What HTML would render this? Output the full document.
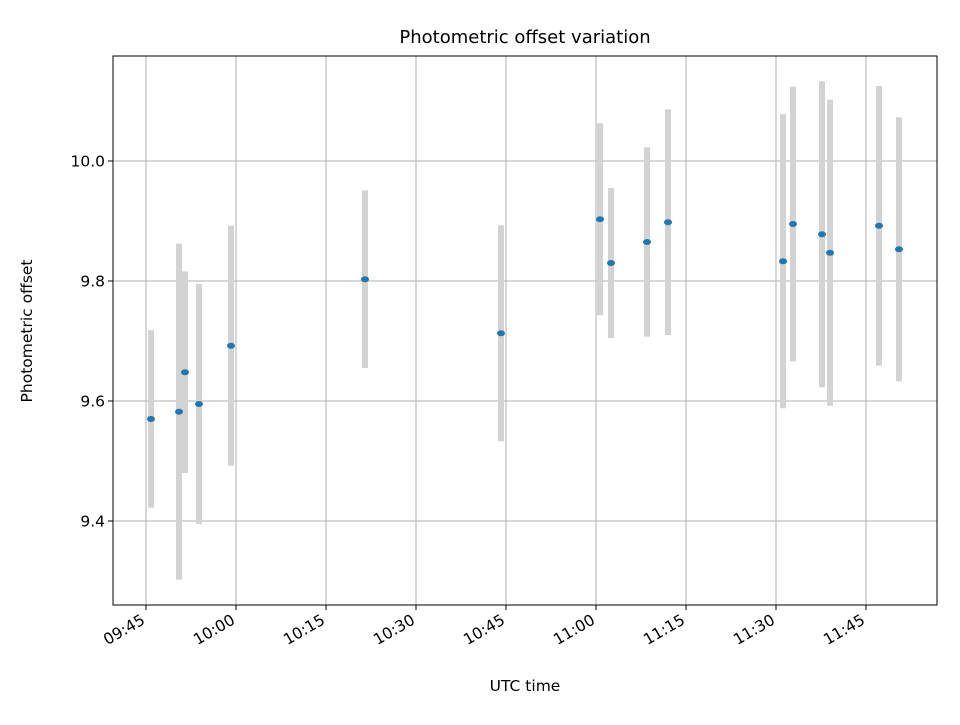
<!DOCTYPE html>
<html><head><meta charset="utf-8"><style>
body{margin:0;background:#fff;}
svg text{font-family:"DejaVu Sans","Liberation Sans",sans-serif;fill:#000;}
</style></head><body>
<svg id="chart" width="960" height="720" xmlns="http://www.w3.org/2000/svg">
<rect width="960" height="720" fill="#fff"/>
<g id="grid"></g><g id="bars"></g><g id="pts"></g><g id="axes"></g>
<text x="525" y="43" text-anchor="middle" font-size="18">Photometric offset variation</text>
<text x="525" y="691" text-anchor="middle" font-size="15.5">UTC time</text>
<text transform="translate(32,331) rotate(-90)" text-anchor="middle" font-size="15.5">Photometric offset</text>
</svg>
<script>
const times=["09:45:50","09:50:30","09:51:30","09:53:50","09:59:10","10:21:30","10:44:10","11:00:40","11:02:30","11:08:30","11:12:00","11:31:10","11:32:50","11:37:40","11:39:00","11:47:10","11:50:30"];
const values=[9.570,9.582,9.648,9.595,9.692,9.803,9.713,9.903,9.830,9.865,9.898,9.833,9.895,9.878,9.847,9.892,9.853];
const errors=[0.148,0.28,0.168,0.2,0.2,0.148,0.18,0.16,0.125,0.158,0.188,0.245,0.229,0.255,0.255,0.233,0.22];
const xTicks=["09:45","10:00","10:15","10:30","10:45","11:00","11:15","11:30","11:45"];
const yTicks=[9.4,9.6,9.8,10.0];
const L=113,R=937,T=56,B=605;
function mins(s){const p=s.split(":").map(Number);return p[0]*60+p[1]+(p[2]||0)/60;}
const t0=mins("09:45");
function X(s){return 146+(mins(s)-t0)*6;}
function Y(v){return 161+(10-v)*600;}
const NS="http://www.w3.org/2000/svg";
function mk(tag,attrs,parent){const e=document.createElementNS(NS,tag);for(const k in attrs)e.setAttribute(k,attrs[k]);parent.appendChild(e);return e;}
const grid=document.getElementById('grid'),axes=document.getElementById('axes'),bars=document.getElementById('bars'),pts=document.getElementById('pts');
xTicks.forEach(t=>{const x=X(t);
 const g=mk('line',{x1:x,x2:x,y1:T,y2:B,stroke:'#b0b0b0','stroke-width':1},grid);
 
 
 const k=mk('line',{x1:x,x2:x,y1:B,y2:B+5,stroke:'#000','stroke-width':1},axes);
 
 
 const tx=mk('text',{x:x,y:B+18,'font-size':15.5,'text-anchor':'end',transform:`rotate(-30 ${x} ${B+18})`},axes);
 tx.textContent=t;
 
 
});
yTicks.forEach(v=>{const y=Y(v);
 const g=mk('line',{x1:L,x2:R,y1:y,y2:y,stroke:'#b0b0b0','stroke-width':1},grid);
 
 
 const k=mk('line',{x1:L-5,x2:L,y1:y,y2:y,stroke:'#000','stroke-width':1},axes);
 
 
 const tx=mk('text',{x:L-8,y:y+5.5,'font-size':15.5,'text-anchor':'end'},axes);
 tx.textContent=v.toFixed(1);
 
 
});
const fr=mk('rect',{x:L,y:T,width:R-L,height:B-T,fill:'none',stroke:'#000','stroke-width':1},axes);


times.forEach((t,i)=>{const x=X(t);
 const b=mk('line',{x1:x,x2:x,y1:Y(values[i]+errors[i]),y2:Y(values[i]-errors[i]),stroke:'#d3d3d3','stroke-width':6},bars);
 
 
 const p=mk('ellipse',{cx:x,cy:Y(values[i]),rx:4,ry:3,fill:'#1f77b4'},pts);
 
 
});
</script>
</body></html>
